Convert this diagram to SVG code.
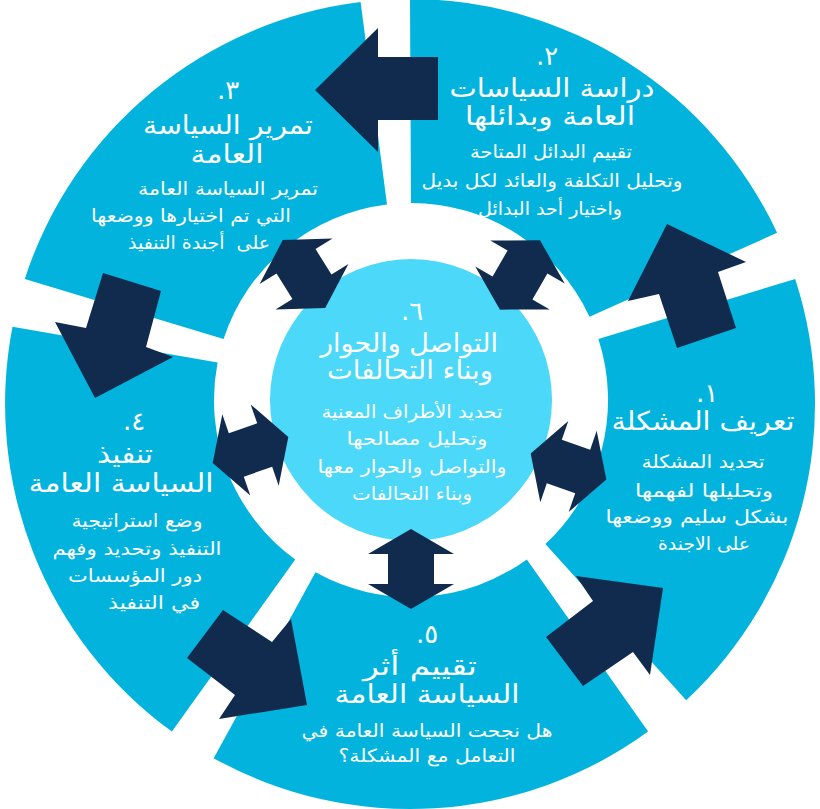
<svg xmlns="http://www.w3.org/2000/svg" width="820" height="809" viewBox="0 0 820 809">
<style>
.seg{fill:#02B4DD}
.core{fill:#4BD8F9}
.arr{fill:#112B4F}
text{fill:#FFFFFF;font-family:'DejaVu Sans',sans-serif;text-anchor:middle;direction:rtl}
.t{font-size:26px}
.b{font-size:18px}
</style>
<defs>
<path id="dbl" d="M40,0 L15,-43 L15,-23 L-15,-23 L-15,-43 L-40,0 L-15,43 L-15,23 L15,23 L15,43 Z"/>
</defs>
<rect width="820" height="809" fill="#FFFFFF"/>
<g id="node-2">
<path class="seg" d="M410,-1 A405,405 0 0 1 777.1,232.8 L589.5,316.7 A197,197 0 0 0 411,203 Z"/>
<text class="t" x="547" y="65">٢.</text>
<text class="t" x="552" y="97" textLength="205" lengthAdjust="spacingAndGlyphs">دراسة السياسات</text>
<text class="t" x="550" y="125" textLength="170" lengthAdjust="spacingAndGlyphs">العامة وبدائلها</text>
<text class="b" x="551" y="158" textLength="162" lengthAdjust="spacingAndGlyphs">تقييم البدائل المتاحة</text>
<text class="b" x="552" y="187" textLength="261" lengthAdjust="spacingAndGlyphs">وتحليل التكلفة والعائد لكل بديل</text>
<text class="b" x="550" y="215" textLength="144" lengthAdjust="spacingAndGlyphs">واختيار أحد البدائل</text>
</g>
<g id="node-1">
<path class="seg" d="M795.2,278.9 A405,405 0 0 1 686.2,700.2 L545.4,544.1 A197,197 0 0 0 598.4,339.1 Z"/>
<text class="t" x="707" y="402">١.</text>
<text class="t" x="703" y="430" textLength="183" lengthAdjust="spacingAndGlyphs">تعريف المشكلة</text>
<text class="b" x="703" y="468" textLength="123" lengthAdjust="spacingAndGlyphs">تحديد المشكلة</text>
<text class="b" x="704" y="497" textLength="138" lengthAdjust="spacingAndGlyphs">وتحليلها لفهمها</text>
<text class="b" x="697" y="523" textLength="183" lengthAdjust="spacingAndGlyphs">بشكل سليم ووضعها</text>
<text class="b" x="704" y="550" textLength="92" lengthAdjust="spacingAndGlyphs">على الاجندة</text>
</g>
<g id="node-5">
<path class="seg" d="M648.1,731.6 A405,405 0 0 1 213.7,758.2 L315.5,572.3 A197,197 0 0 0 526.8,559.4 Z"/>
<text class="t" x="427" y="643">٥.</text>
<text class="t" x="420" y="675" textLength="114" lengthAdjust="spacingAndGlyphs">تقييم أثر</text>
<text class="t" x="427" y="703" textLength="185" lengthAdjust="spacingAndGlyphs">السياسة العامة</text>
<text class="b" x="427" y="737" textLength="251" lengthAdjust="spacingAndGlyphs">هل نجحت السياسة العامة في</text>
<text class="b" x="427" y="762" textLength="177" lengthAdjust="spacingAndGlyphs">التعامل مع المشكلة؟</text>
</g>
<g id="node-4">
<path class="seg" d="M171.9,731.6 A405,405 0 0 1 12.5,326.7 L217.6,362.4 A197,197 0 0 0 295.2,559.4 Z"/>
<text class="t" x="134" y="430">٤.</text>
<text class="t" x="125" y="463" textLength="56" lengthAdjust="spacingAndGlyphs">تنفيذ</text>
<text class="t" x="121" y="492" textLength="185" lengthAdjust="spacingAndGlyphs">السياسة العامة</text>
<text class="b" x="137" y="527" textLength="131" lengthAdjust="spacingAndGlyphs">وضع استراتيجية</text>
<text class="b" x="137" y="555" textLength="169" lengthAdjust="spacingAndGlyphs">التنفيذ وتحديد وفهم</text>
<text class="b" x="135" y="582" textLength="134" lengthAdjust="spacingAndGlyphs">دور المؤسسات</text>
<text class="b" x="154" y="609" textLength="92" lengthAdjust="spacingAndGlyphs">في التنفيذ</text>
</g>
<g id="node-3">
<path class="seg" d="M24.8,278.9 A405,405 0 0 1 360.6,2 L387,204.5 A197,197 0 0 0 223.6,339.1 Z"/>
<text class="t" x="228" y="99">٣.</text>
<text class="t" x="228" y="134" textLength="170" lengthAdjust="spacingAndGlyphs">تمرير السياسة</text>
<text class="t" x="227" y="163" textLength="73" lengthAdjust="spacingAndGlyphs">العامة</text>
<text class="b" x="228" y="195" textLength="180" lengthAdjust="spacingAndGlyphs">تمرير السياسة العامة</text>
<text class="b" x="191" y="222" textLength="200" lengthAdjust="spacingAndGlyphs">التي تم اختيارها ووضعها</text>
<text class="b" x="199" y="249" textLength="142" lengthAdjust="spacingAndGlyphs" xml:space="preserve">على  أجندة التنفيذ</text>
</g>
<g id="node-6">
<circle class="core" cx="411" cy="400" r="141"/>
<text class="t" x="412" y="320">٦.</text>
<text class="t" x="409" y="352" textLength="178" lengthAdjust="spacingAndGlyphs">التواصل والحوار</text>
<text class="t" x="410" y="379" textLength="166" lengthAdjust="spacingAndGlyphs">وبناء التحالفات</text>
<text class="b" x="412" y="418" textLength="181" lengthAdjust="spacingAndGlyphs">تحديد الأطراف المعنية</text>
<text class="b" x="417" y="445" textLength="141" lengthAdjust="spacingAndGlyphs">وتحليل مصالحها</text>
<text class="b" x="412" y="473" textLength="189" lengthAdjust="spacingAndGlyphs">والتواصل والحوار معها</text>
<text class="b" x="412" y="500" textLength="120" lengthAdjust="spacingAndGlyphs">وبناء التحالفات</text>
</g>
<g id="connectors">
<polygon class="arr" points="315,90 378,28 378,57 438,57 438,120 378,120 378,152"/>
<polygon class="arr" points="667,224 746,262 718,272 736,328 677,348 659,294 628,301"/>
<polygon class="arr" points="663,588 576,576 593,601 546,637 583,686 633,652 650,675"/>
<polygon class="arr" points="307,705 291,619 272,642 223,610 187,658 235,695 219,719"/>
<polygon class="arr" points="95,398 173,357 146,347 161,291 103,273 86,328 55,322"/>
<use href="#dbl" class="arr" transform="translate(411,569) rotate(90)"/>
<use href="#dbl" class="arr" transform="translate(250.5,450) rotate(161)"/>
<use href="#dbl" class="arr" transform="translate(568.5,466.5) rotate(19)"/>
<use href="#dbl" class="arr" transform="translate(520,275) rotate(-60)"/>
<use href="#dbl" class="arr" transform="translate(304,274) rotate(-122)"/>
</g>
</svg>
